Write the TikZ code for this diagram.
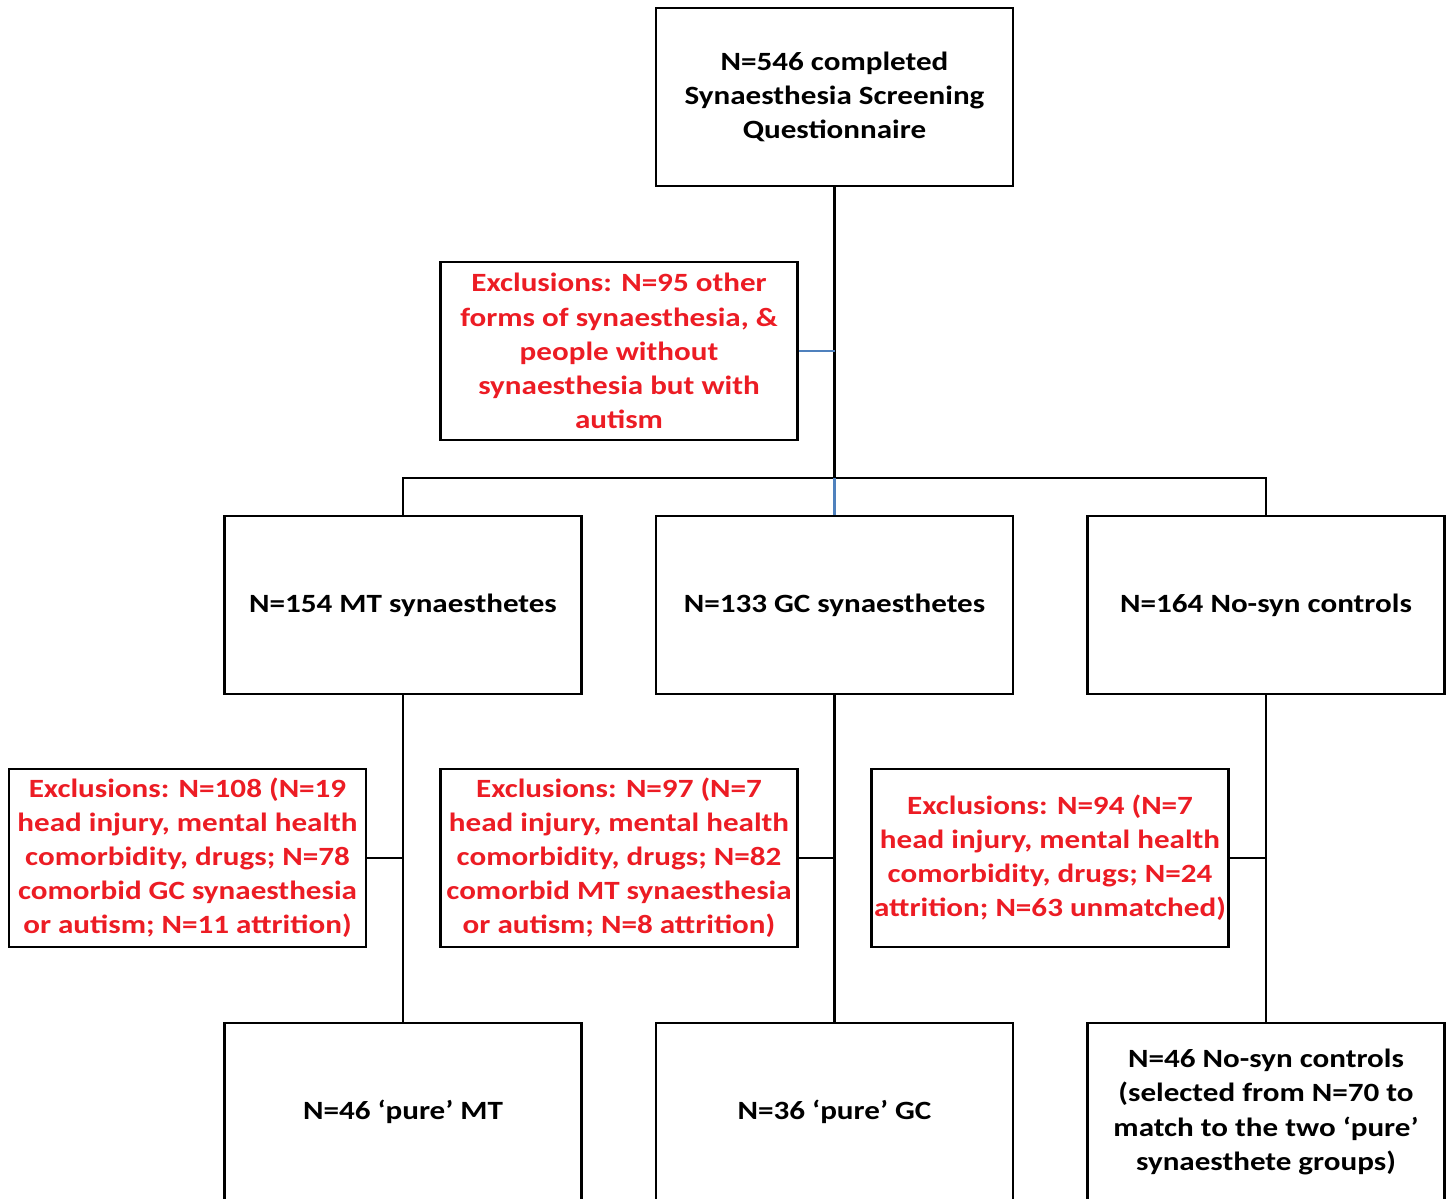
\documentclass[tikz,border=0pt]{standalone}
\usepackage{fontspec}
\setmainfont{Carlito}[FakeStretch=1.18]
\usepackage{xcolor}
\definecolor{exclred}{RGB}{236,28,36}
\definecolor{linkblue}{RGB}{79,129,189}

\begin{document}
\begin{tikzpicture}[x=0.02cm,y=-0.02cm,
  box/.style={draw,line width=1.2pt,minimum width=7.14cm,minimum height=3.56cm,
    align=center,inner sep=1pt,font=\fontsize{15}{19.4}\selectfont\bfseries},
  excl/.style={box,text=exclred},
  link/.style={line width=1.2pt}]
\useasboundingbox (0,0) rectangle (1448,1198);

% screening
\node[box] (screen) at (834.5,97) {N=546 completed\\Synaesthesia Screening\\Questionnaire};
\node[excl] (exall) at (619,351) {Exclusions: N=95 other\\forms of synaesthesia, \&\\people without\\synaesthesia but with\\autism};
\coordinate (split) at (834.5,478);

% groups
\node[box] (mt) at (403,605) {N=154 MT synaesthetes};
\node[box] (gc) at (834.5,605) {N=133 GC synaesthetes};
\node[box] (nosyn) at (1266,605) {N=164 No-syn controls};

% exclusions per group
\node[excl] (exmt) at (187.5,858) {Exclusions: N=108 (N=19\\head injury, mental health\\comorbidity, drugs; N=78\\comorbid GC synaesthesia\\or autism; N=11 attrition)};
\node[excl] (exgc) at (619,858) {Exclusions: N=97 (N=7\\head injury, mental health\\comorbidity, drugs; N=82\\comorbid MT synaesthesia\\or autism; N=8 attrition)};
\node[excl] (exnosyn) at (1050,858) {Exclusions: N=94 (N=7\\head injury, mental health\\comorbidity, drugs; N=24\\attrition; N=63 unmatched)};

% final samples
\node[box] (puremt) at (403,1112) {N=46 ‘pure’ MT};
\node[box] (puregc) at (834.5,1112) {N=36 ‘pure’ GC};
\node[box] (purenosyn) at (1266,1112) {N=46 No-syn controls\\(selected from N=70 to\\match to the two ‘pure’\\synaesthete groups)};

\draw[link] (screen.south) -- (split);
\draw[link] (mt.north) |- (split) -| (nosyn.north);
\draw[link,linkblue] (split) -- (gc.north);
\draw[link,linkblue] (exall.east) -- (exall.east -| screen.south);

\foreach \grp/\ex/\fin in {mt/exmt/puremt,gc/exgc/puregc,nosyn/exnosyn/purenosyn}
{\draw[link] (\grp.south) -- (\fin.north);
 \draw[link] (\ex.east) -- (\ex.east -| \grp.south);}

\end{tikzpicture}
\end{document}
